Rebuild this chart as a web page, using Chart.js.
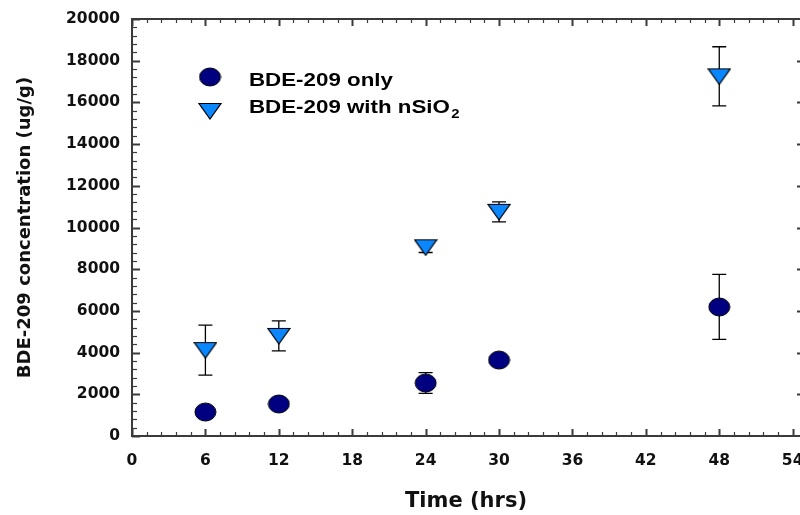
<!DOCTYPE html>
<html>
<head>
<meta charset="utf-8">
<script src="https://cdn.jsdelivr.net/npm/chart.js@4.4.0/dist/chart.umd.min.js"></script>
<style>
  body { margin: 0; background: #fff; }
  #wrap { width: 800px; height: 515px; }
</style>
</head>
<body>
<div id="wrap"><canvas id="bdeChart" width="800" height="515"></canvas></div>
<script>
// time points (hrs)
const hours = [6, 12, 24, 30, 48];
// BDE-209 only (ug/g) and its std error
const onlyValues = [1150, 1535, 2540, 3645, 6190];
const onlyErrors = [150, 150, 500, 150, 1560];
// BDE-209 with nSiO2 (ug/g) and its std error
const silicaValues = [4120, 4800, 9050, 10750, 17250];
const silicaErrors = [1200, 720, 250, 480, 1420];

const xTicks = [0, 6, 12, 18, 24, 30, 36, 42, 48, 54];
const yTicks = [0, 2000, 4000, 6000, 8000, 10000, 12000, 14000, 16000, 18000, 20000];

const seriesNames = ["BDE-209 only", "BDE-209 with nSiO", "2"];

const NAVY = "#000080";
const BLUE = "#0a86ff";
const AXIS = "#3a3a3a";

// marker images (ellipse and down-pointing triangle)
function makeEllipse(w, h, fill) {
    const c = document.createElement("canvas");
    c.width = w + 2; c.height = h + 2;
    const g = c.getContext("2d");
    g.beginPath();
    g.ellipse(c.width / 2, c.height / 2, w / 2, h / 2, 0, 0, Math.PI * 2);
    g.fillStyle = fill; g.fill();
    g.lineWidth = 1; g.strokeStyle = "#000"; g.stroke();
    return c;
}
function makeTriangle(w, h, fill) {
    const c = document.createElement("canvas");
    c.width = w + 2; c.height = h + 2;
    const g = c.getContext("2d");
    g.beginPath();
    g.moveTo(1, 1.5); g.lineTo(w + 1, 1.5); g.lineTo(c.width / 2, h + 1);
    g.closePath();
    g.fillStyle = fill; g.fill();
    g.lineWidth = 1.2; g.strokeStyle = "#000"; g.stroke();
    return c;
}
const circleImg = makeEllipse(21, 18, NAVY);
const triangleImg = makeTriangle(22, 16, BLUE);

// error bars under the markers
const errorBars = {
    id: "errorBars",
    beforeDatasetsDraw(chart) {
        const ctx = chart.ctx;
        const xs = chart.scales.x, ys = chart.scales.y;
        const sets = [[onlyValues, onlyErrors], [silicaValues, silicaErrors]];
        ctx.save();
        ctx.strokeStyle = "#000";
        ctx.lineWidth = 1.3;
        sets.forEach(([vals, errs]) => {
            hours.forEach((h, i) => {
                const px = xs.getPixelForValue(h);
                const top = ys.getPixelForValue(vals[i] + errs[i]);
                const bot = ys.getPixelForValue(vals[i] - errs[i]);
                ctx.beginPath();
                ctx.moveTo(px, top); ctx.lineTo(px, bot);
                ctx.moveTo(px - 7, top); ctx.lineTo(px + 7, top);
                ctx.moveTo(px - 7, bot); ctx.lineTo(px + 7, bot);
                ctx.stroke();
            });
        });
        ctx.restore();
    }
};

// box frame with inward ticks + the in-plot legend
const frameAndLegend = {
    id: "frameAndLegend",
    afterDatasetsDraw(chart) {
        const ctx = chart.ctx;
        const a = chart.chartArea;
        const xs = chart.scales.x, ys = chart.scales.y;
        ctx.save();
        ctx.strokeStyle = AXIS;
        ctx.lineWidth = 2;
        ctx.beginPath();
        ctx.moveTo(a.left, a.top); ctx.lineTo(a.right, a.top);
        ctx.moveTo(a.left, a.bottom); ctx.lineTo(a.right, a.bottom);
        ctx.moveTo(a.left, a.top - 1); ctx.lineTo(a.left, a.bottom + 1);
        ctx.stroke();

        // x ticks, top and bottom
        for (let v = 0; v <= 54.001; v += 1.2) {
            const major = Math.abs(v / 6 - Math.round(v / 6)) < 0.01;
            const px = Math.round(xs.getPixelForValue(v)) + 0.5;
            const len = major ? 7 : 4;
            ctx.lineWidth = major ? 2 : 1.2;
            ctx.beginPath();
            ctx.moveTo(px, a.bottom); ctx.lineTo(px, a.bottom - len);
            ctx.moveTo(px, a.top); ctx.lineTo(px, a.top + len);
            ctx.stroke();
        }
        // y ticks, left (minor + major) and right edge (major stubs)
        for (let v = 0; v <= 20000; v += 400) {
            const major = v % 2000 === 0;
            const py = Math.round(ys.getPixelForValue(v)) + 0.5;
            const len = major ? 8 : 5;
            ctx.lineWidth = major ? 2 : 1.2;
            ctx.beginPath();
            ctx.moveTo(a.left, py); ctx.lineTo(a.left + len, py);
            if (major && v > 0 && v < 20000) { ctx.moveTo(a.right, py); ctx.lineTo(a.right - 3, py); }
            ctx.stroke();
        }

        // legend markers
        ctx.drawImage(circleImg, 210 - circleImg.width / 2, 77 - circleImg.height / 2);
        ctx.drawImage(triangleImg, 210 - triangleImg.width / 2, 111 - triangleImg.height / 2);

        // legend text (stretched wide like the original figure)
        ctx.fillStyle = "#000";
        ctx.textBaseline = "alphabetic";
        ctx.textAlign = "left";
        ctx.translate(249, 0);
        ctx.scale(1.24, 1);
        ctx.font = "bold 18px 'Liberation Sans', Arial, sans-serif";
        ctx.fillText(seriesNames[0], 0, 86);
        ctx.fillText(seriesNames[1], 0, 113);
        const w = ctx.measureText(seriesNames[1]).width;
        ctx.font = "bold 12px 'Liberation Sans', Arial, sans-serif";
        ctx.fillText(seriesNames[2], w + 1, 118);
        ctx.restore();
    }
};

const tickFont = { family: "'DejaVu Sans', Verdana, sans-serif", size: 15.5, weight: "bold" };

new Chart(document.getElementById("bdeChart").getContext("2d"), {
    type: "scatter",
    data: {
        datasets: [
            {
                label: seriesNames[0],
                data: hours.map((h, i) => ({ x: h, y: onlyValues[i] })),
                pointStyle: circleImg,
                pointRadius: 10,
                pointHoverRadius: 10
            },
            {
                label: seriesNames[1] + seriesNames[2],
                data: hours.map((h, i) => ({ x: h, y: silicaValues[i] })),
                pointStyle: triangleImg,
                pointRadius: 10,
                pointHoverRadius: 10
            }
        ]
    },
    options: {
        responsive: false,
        animation: false,
        layout: { autoPadding: false, padding: { top: 19, right: 0, bottom: 0, left: 0 } },
        plugins: {
            legend: { display: false },
            tooltip: { enabled: false }
        },
        scales: {
            x: {
                type: "linear",
                min: 0,
                max: 54.6,
                afterBuildTicks: scale => { scale.ticks = xTicks.map(v => ({ value: v })); },
                afterFit: scale => { scale.height = 79; scale.paddingLeft = 0; scale.paddingRight = 0; },
                border: { display: false },
                grid: { display: false, drawTicks: false },
                ticks: {
                    padding: 16,
                    color: "#111",
                    font: tickFont,
                    maxRotation: 0,
                    autoSkip: false,
                    callback: v => String(v)
                },
                title: {
                    display: true,
                    text: "Time (hrs)",
                    color: "#111",
                    font: { family: "'DejaVu Sans', Verdana, sans-serif", size: 21, weight: "bold" },
                    padding: { top: 0, bottom: 1 }
                }
            },
            y: {
                min: 0,
                max: 20000,
                afterBuildTicks: scale => { scale.ticks = yTicks.map(v => ({ value: v })); },
                afterFit: scale => { scale.width = 132; scale.paddingTop = 0; scale.paddingBottom = 0; },
                border: { display: false },
                grid: { display: false, drawTicks: false },
                ticks: {
                    padding: 12,
                    color: "#111",
                    font: tickFont,
                    autoSkip: false,
                    callback: v => String(v)
                },
                title: {
                    display: true,
                    text: "BDE-209 concentration (ug/g)",
                    color: "#111",
                    font: { family: "'DejaVu Sans', Verdana, sans-serif", size: 18, weight: "bold" },
                    padding: { top: 15, bottom: 0 }
                }
            }
        }
    },
    plugins: [errorBars, frameAndLegend]
});
</script>
</body>
</html>
